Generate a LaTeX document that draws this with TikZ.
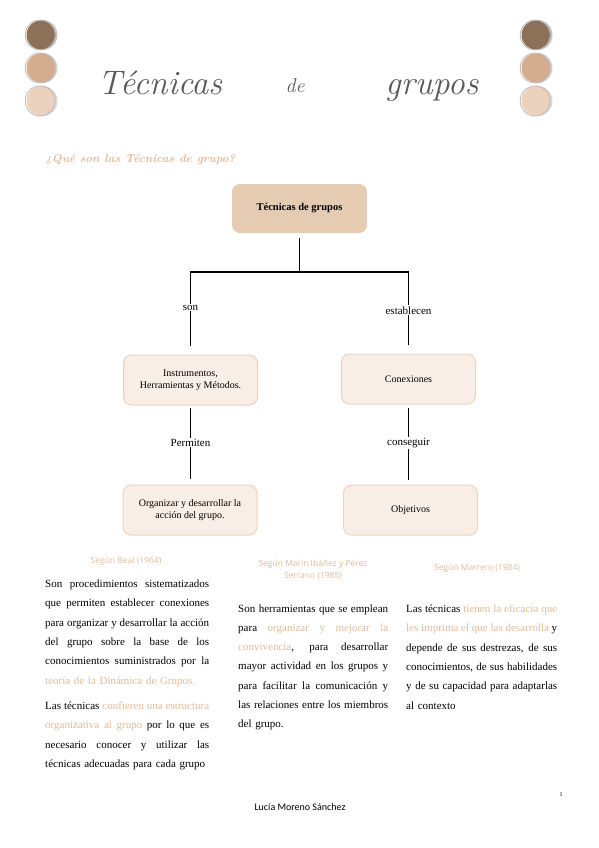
\documentclass[tikz,border=0pt]{standalone}
\usepackage{fontspec}
\usepackage{xcolor}
\usepackage{tikz}
\usetikzlibrary{positioning,calc}
\newfontfamily\bodyfont{Liberation Serif}
\newfontfamily\headfont{Open Sans}
\newfontfamily\footfont{Carlito}
\definecolor{cocoa}{RGB}{141,112,88}
\definecolor{sand}{RGB}{211,173,142}
\definecolor{blush}{RGB}{234,210,190}
\definecolor{tanbox}{RGB}{229,203,177}
\definecolor{creambox}{RGB}{248,238,230}
\definecolor{creamline}{RGB}{237,211,188}
\definecolor{tantext}{RGB}{226,186,152}
\newcommand{\hl}[1]{\textcolor{tantext}{#1}}
\newcommand{\jline}[2]{\hbox to #1{\spaceskip=0pt\xspaceskip=0pt #2}}

\begin{document}
\begin{tikzpicture}[x=1pt, y=-1pt,
    mainbox/.style={fill=tanbox, rounded corners=8pt, minimum width=135pt, minimum height=49pt, font=\bodyfont\bfseries\fontsize{10.5}{12}\selectfont},
    subbox/.style={fill=creambox, draw=creamline, line width=1pt, rounded corners=8pt, minimum width=134pt, minimum height=50pt, align=center, font=\bodyfont\fontsize{10}{12}\selectfont},
    tree/.style={line width=1.8pt, black},
    lbl/.style={fill=white, inner sep=1pt, font=\bodyfont\fontsize{11}{12}\selectfont},
    title/.style={anchor=base, text=black!65, font=\itshape\fontsize{34}{34}\selectfont},
    src/.style={text=tantext, inner sep=0pt, font=\headfont\fontsize{8.5}{12}\selectfont},
    body/.style={anchor=base west, inner sep=0pt, font=\bodyfont\fontsize{11}{19.3}\selectfont}]
    \useasboundingbox (0,0) rectangle (599,848);

    % Colour dots
    \foreach \cx in {41,536}{
        \foreach \cy/\col in {35/cocoa, 68/sand, 101/blush}{
            \fill[\col!70!black, opacity=0.35] (\cx+1.5,\cy) circle (15pt);
            \fill[\col] (\cx,\cy) circle (14.5pt);
            \draw[gray!55, line width=0.8pt] (\cx-0.8,\cy) circle (15pt);
        }
    }

    % Title
    \node[title] (tit1) at (160,95) {Técnicas};
    \node[title, font=\itshape\fontsize{20}{20}\selectfont] (tit2) at (295,93) {de};
    \node[title] (tit3) at (432,95) {grupos};

    % Question
    \node[anchor=west, inner sep=0pt, text=tantext, font=\bfseries\itshape\fontsize{11.5}{12}\selectfont] (ques) at (45,160) {¿Qué son las Técnicas de grupo?};

    % Concept map
    \node[mainbox] (top) at (299.5,208.5) {Técnicas de grupos};
    \node[subbox] (ins) at (190.5,380) {Instrumentos,\\Herramientas y Métodos.};
    \node[subbox] (con) at (408.5,379) {Conexiones};
    \node[subbox] (org) at (190,510) {Organizar y desarrollar la\\acción del grupo.};
    \node[subbox] (obj) at (410.5,510) {Objetivos};
    \coordinate (j) at (298,272);

    \draw[tree, shorten <=5pt] (top.south) -- (top.south |- j);
    \draw[tree, shorten <=9pt, shorten >=9pt] (ins.north) -- node[lbl, pos=0.57]{son} (ins.north |- j)
        -- (con.north |- j) -- node[lbl, pos=0.47]{establecen} (con.north);
    \draw[tree, shorten <=2pt, shorten >=6pt] (ins.south) -- node[lbl, pos=0.47]{Permiten} (ins.south |- org.north);
    \draw[tree, shorten <=3pt, shorten >=4.5pt] (con.south) -- node[lbl, pos=0.48]{conseguir} (con.south |- obj.north);

    % Sources
    \node[src] (src1) at (126,561) {Según Beal (1964)};
    \node[src, align=center] (src2) at (313,570) {Según Marín Ibáñez y Pérez\\Serrano (1985)};
    \node[src] (src3) at (477,568) {Según Marrero (1984)};

    % Columns
    \node[body, text width=164pt] (beal) at (45,587.5) {%
        \jline{164pt}{Son procedimientos sistematizados}
        \jline{164pt}{que permiten establecer conexiones}
        \jline{164pt}{para organizar y desarrollar la acción}
        \jline{164pt}{del grupo sobre la base de los}
        \jline{164pt}{conocimientos suministrados por la}
        \hbox{\hl{teoría de la Dinámica de Grupos.}}};
    \node[body, text width=164pt] (beal2) at (45,709.5) {%
        \jline{164pt}{Las técnicas \hl{confieren una estructura}}
        \jline{164pt}{\hl{organizativa al grupo} por lo que es}
        \jline{164pt}{necesario conocer y utilizar las}
        \hbox{técnicas adecuadas para cada grupo}};
    \node[body, text width=150pt] (marin) at (238,612) {%
        \jline{150pt}{Son herramientas que se emplean}
        \jline{150pt}{para \hl{organizar y mejorar la}}
        \jline{150pt}{\hl{convivencia}, para desarrollar}
        \jline{150pt}{mayor actividad en los grupos y}
        \jline{150pt}{para facilitar la comunicación y}
        \jline{150pt}{las relaciones entre los miembros}
        \hbox{del grupo.}};
    \node[body, text width=151pt] (marrero) at (406,612.5) {%
        \jline{151pt}{Las técnicas \hl{tienen la eficacia que}}
        \jline{151pt}{\hl{les imprima el que las desarrolla} y}
        \jline{151pt}{depende de sus destrezas, de sus}
        \jline{151pt}{conocimientos, de sus habilidades}
        \jline{151pt}{y de su capacidad para adaptarlas}
        \hbox{al contexto}};

    % Footer
    \node[font=\footfont\fontsize{10}{10}\selectfont] (autora) at (300,807) {Lucía Moreno Sánchez};
    \node[font=\bodyfont\fontsize{6}{6}\selectfont] (pagina) at (561,795) {1};
\end{tikzpicture}
\end{document}
